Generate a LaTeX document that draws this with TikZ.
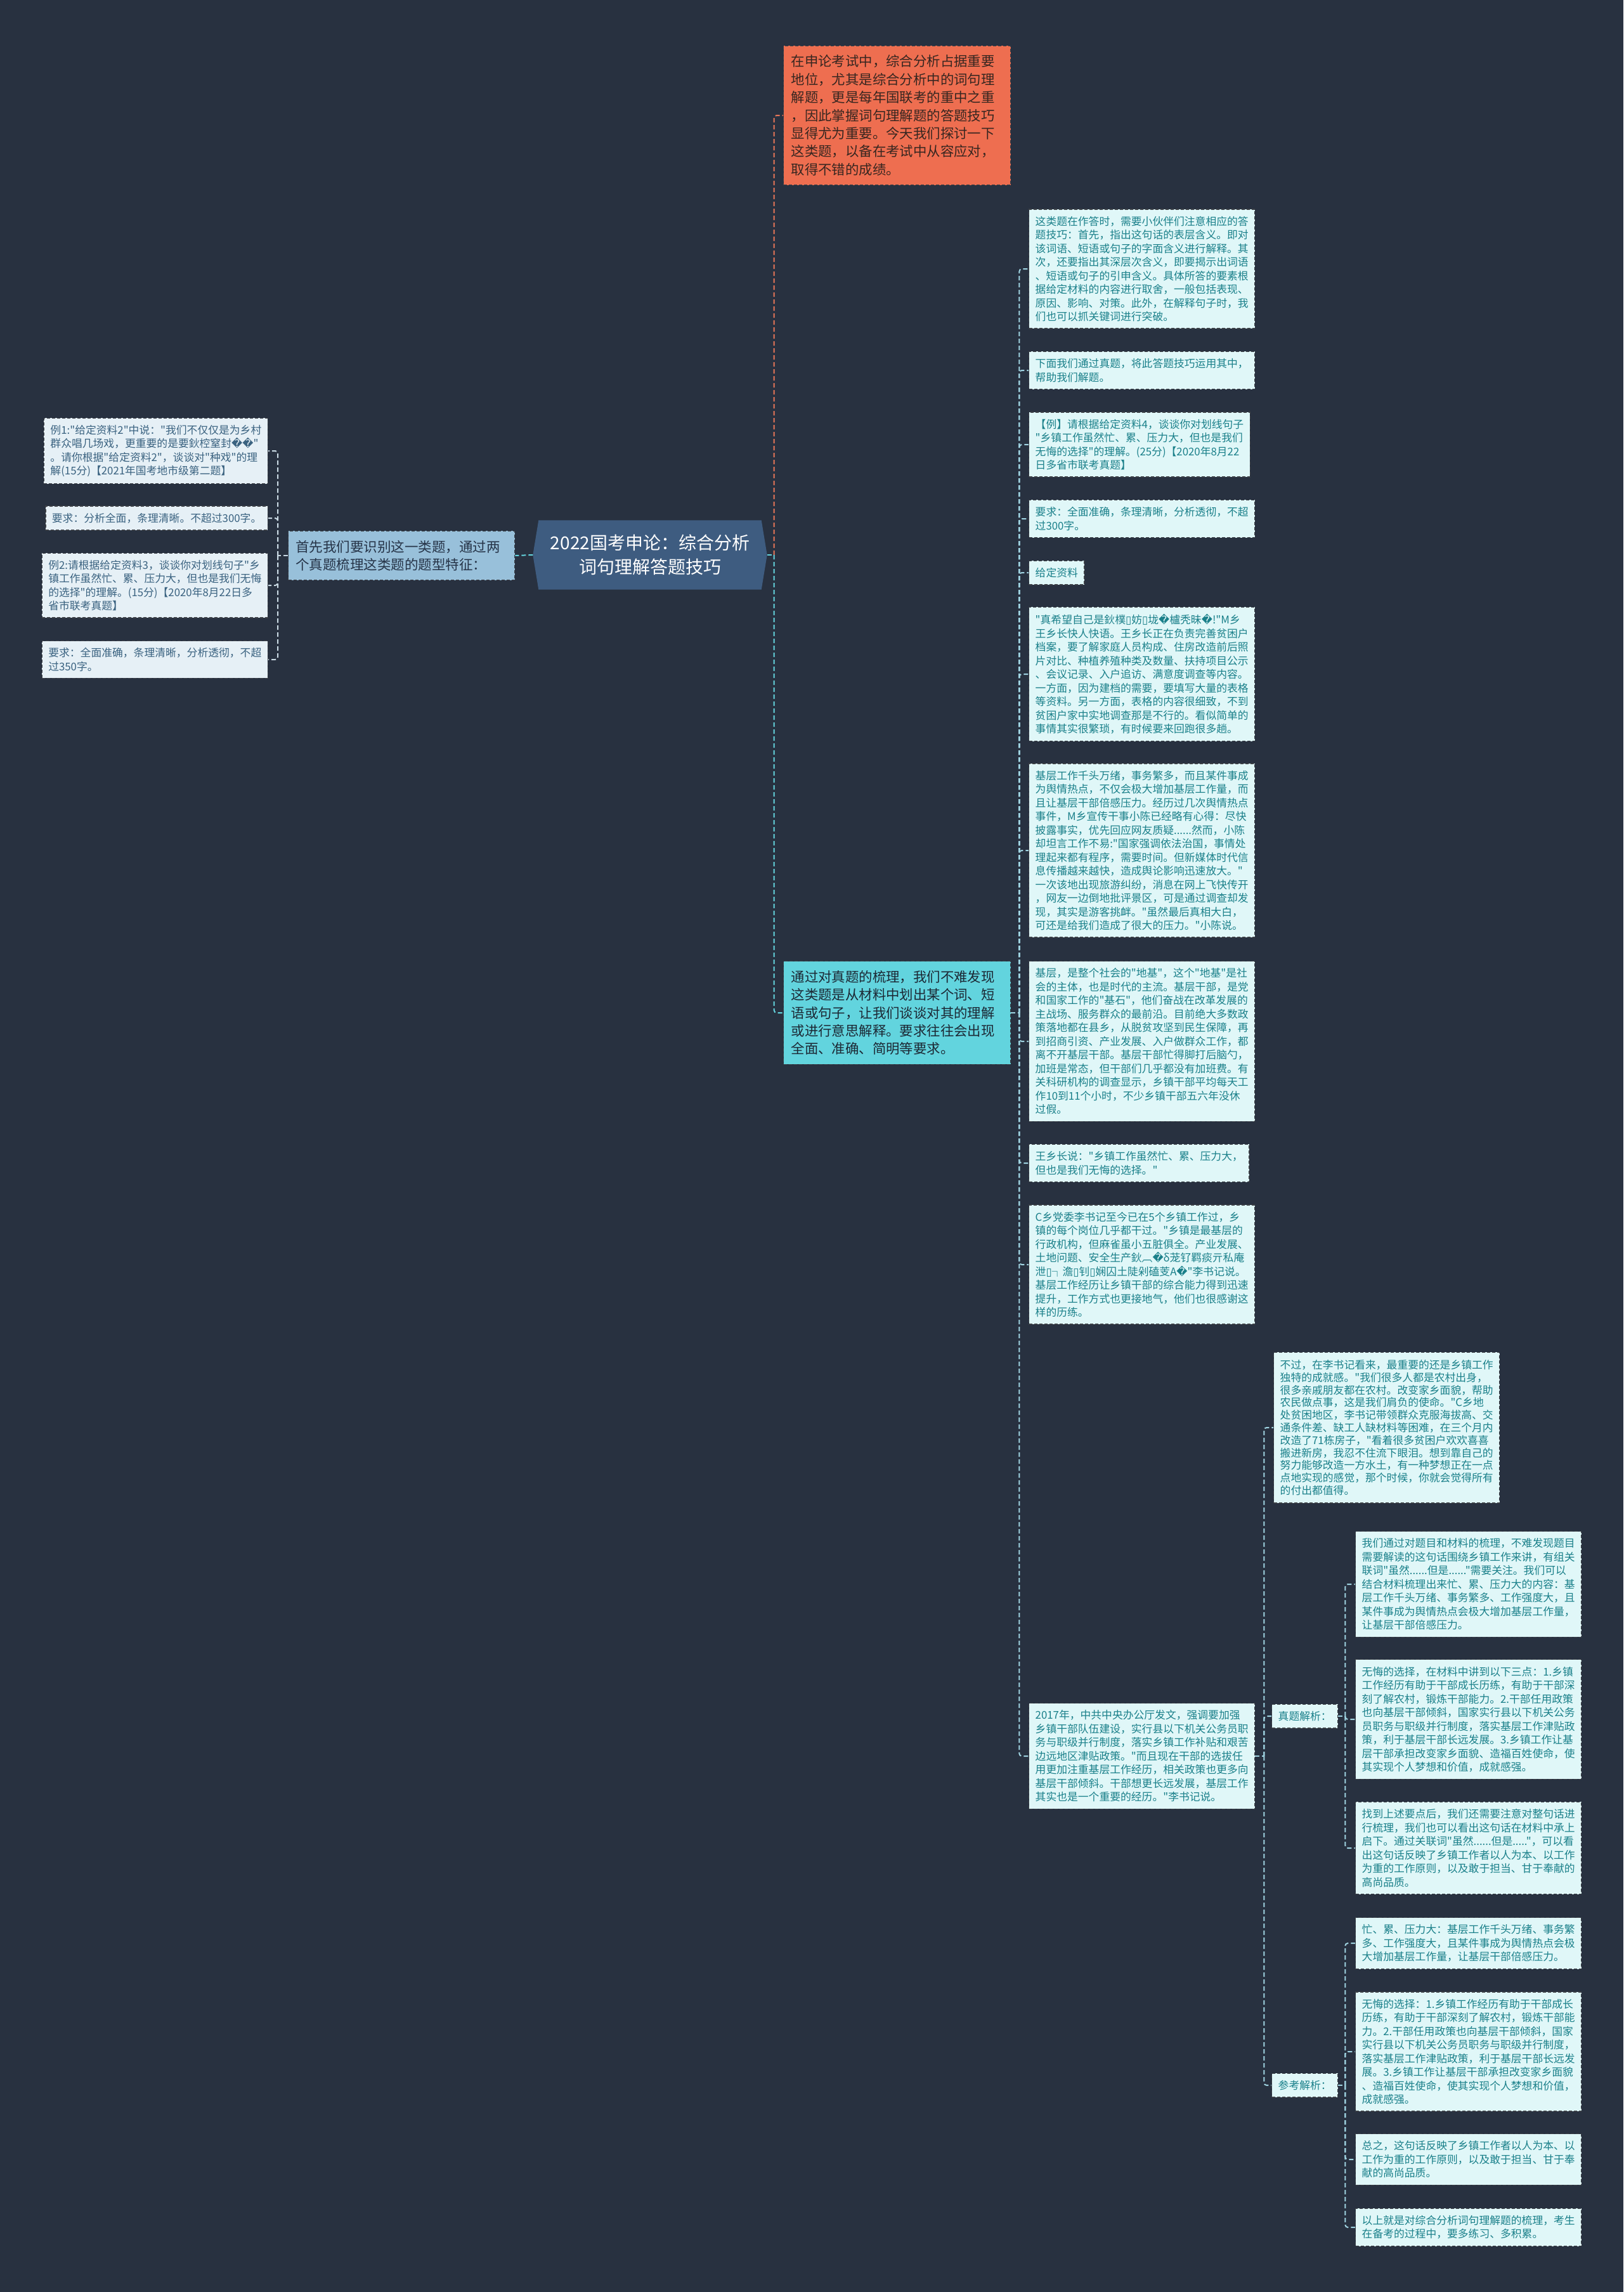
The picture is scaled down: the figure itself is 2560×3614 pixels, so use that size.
\documentclass[tikz,border=0pt]{standalone}
\usepackage{fontspec}
\setmainfont{Noto Sans CJK SC}[Ligatures=TeXOff]
\newfontfamily\dvs{DejaVu Sans}
\newcommand\rp{{\dvs\symbol{"FFFD}}}
\newcommand\tf{{\dvs\symbol{"25AF}}}
\usetikzlibrary{calc}
\pgfdeclarelayer{bg}
\pgfsetlayers{bg,main}
\definecolor{bgc}{RGB}{40,49,64}
\definecolor{rootc}{RGB}{62,92,128}
\definecolor{orfill}{RGB}{238,110,80}
\definecolor{ortext}{RGB}{55,38,32}
\definecolor{cyfill}{RGB}{98,212,222}
\definecolor{cytext}{RGB}{28,40,52}
\definecolor{midfill}{RGB}{152,192,218}
\definecolor{midtext}{RGB}{38,52,72}
\definecolor{lfill}{RGB}{230,240,246}
\definecolor{ltext}{RGB}{58,98,128}
\definecolor{rfill}{RGB}{224,247,248}
\definecolor{rtext}{RGB}{26,128,138}
\definecolor{bordc}{RGB}{60,64,70}
\definecolor{orline}{RGB}{232,118,88}
\definecolor{cyline}{RGB}{100,212,222}
\definecolor{rline}{RGB}{160,212,226}
\definecolor{lline}{RGB}{200,216,226}
\tikzset{
  boxbase/.style={draw=bordc, dash pattern=on 5pt off 3pt, line width=1.4pt, align=left},
  leafR/.style={boxbase, fill=rfill, text=rtext, font=\fontsize{16.8}{21.5}\selectfont, inner xsep=10pt, inner ysep=11pt, anchor=west},
  leafL/.style={boxbase, fill=lfill, text=ltext, font=\fontsize{16.8}{21.3}\selectfont, inner xsep=10pt, inner ysep=11pt, anchor=east},
  bigbox/.style={boxbase, font=\fontsize{21.4}{28.4}\selectfont, inner xsep=12pt, inner ysep=14.5pt, anchor=west, text width=334pt},
  conn/.style={line width=2pt, dash pattern=on 7pt off 4pt, rounded corners=4pt},
}
\begin{document}
\begin{tikzpicture}[x=1pt,y=-1pt]
\useasboundingbox (0,0) rectangle (2560,3614);

% root
\node[text=white, font=\fontsize{28}{38}\selectfont, align=center, minimum width=369pt, minimum height=109pt, inner sep=0pt] (root) at (1025,875) {2022国考申论：综合分析\\词句理解答题技巧};

% left branch
\node[boxbase, fill=midfill, text=midtext, font=\fontsize{21.5}{28.4}\selectfont, inner xsep=11.5pt, inner ysep=14.5pt, text width=334pt, anchor=west] (M) at (454,876) {首先我们要识别这一类题，通过两\\个真题梳理这类题的题型特征：};

\node[leafL] (L1) at (423,711) {例1:"给定资料2"中说："我们不仅仅是为乡村\\群众唱几场戏，更重要的是要鈥椌窒封\rp\rp"\\。请你根据"给定资料2"，谈谈对"种戏"的理\\解(15分)【2021年国考地市级第二题】};
\node[leafL] (L2) at (423,817) {要求：分析全面，条理清晰。不超过300字。};
\node[leafL] (L3) at (423,923) {例2:请根据给定资料3，谈谈你对划线句子"乡\\镇工作虽然忙、累、压力大，但也是我们无悔\\的选择"的理解。(15分)【2020年8月22日多\\省市联考真题】};
\node[leafL] (L4) at (423,1040) {要求：全面准确，条理清晰，分析透彻，不超\\过350字。};

% orange and cyan
\node[bigbox, fill=orfill, text=ortext] (O) at (1235,182) {在申论考试中，综合分析占据重要\\地位，尤其是综合分析中的词句理\\解题，更是每年国联考的重中之重\\，因此掌握词句理解题的答题技巧\\显得尤为重要。今天我们探讨一下\\这类题，以备在考试中从容应对，\\取得不错的成绩。};
\node[bigbox, fill=cyfill, text=cytext] (Cy) at (1235,1597) {通过对真题的梳理，我们不难发现\\这类题是从材料中划出某个词、短\\语或句子，让我们谈谈对其的理解\\或进行意思解释。要求往往会出现\\全面、准确、简明等要求。};

% right column
\node[leafR] (R1) at (1622,424) {这类题在作答时，需要小伙伴们注意相应的答\\题技巧：首先，指出这句话的表层含义。即对\\该词语、短语或句子的字面含义进行解释。其\\次，还要指出其深层次含义，即要揭示出词语\\、短语或句子的引申含义。具体所答的要素根\\据给定材料的内容进行取舍，一般包括表现、\\原因、影响、对策。此外，在解释句子时，我\\们也可以抓关键词进行突破。};
\node[leafR] (R2) at (1622,584) {下面我们通过真题，将此答题技巧运用其中，\\帮助我们解题。};
\node[leafR] (R3) at (1622,701) {【例】请根据给定资料4，谈谈你对划线句子\\"乡镇工作虽然忙、累、压力大，但也是我们\\无悔的选择"的理解。(25分)【2020年8月22\\日多省市联考真题】};
\node[leafR] (R4) at (1622,818) {要求：全面准确，条理清晰，分析透彻，不超\\过300字。};
\node[leafR] (R5) at (1622,903) {给定资料};
\node[leafR] (R6) at (1622,1063) {"真希望自己是鈥樸\tf{}妨\tf{}垅\rp{}櫨秃昧\rp{}!"M乡\\王乡长快人快语。王乡长正在负责完善贫困户\\档案，要了解家庭人员构成、住房改造前后照\\片对比、种植养殖种类及数量、扶持项目公示\\、会议记录、入户追访、满意度调查等内容。\\一方面，因为建档的需要，要填写大量的表格\\等资料。另一方面，表格的内容很细致，不到\\贫困户家中实地调查那是不行的。看似简单的\\事情其实很繁琐，有时候要来回跑很多趟。};
\node[leafR] (R7) at (1622,1341) {基层工作千头万绪，事务繁多，而且某件事成\\为舆情热点，不仅会极大增加基层工作量，而\\且让基层干部倍感压力。经历过几次舆情热点\\事件，M乡宣传干事小陈已经略有心得：尽快\\披露事实，优先回应网友质疑......然而，小陈\\却坦言工作不易:"国家强调依法治国，事情处\\理起来都有程序，需要时间。但新媒体时代信\\息传播越来越快，造成舆论影响迅速放大。"\\一次该地出现旅游纠纷，消息在网上飞快传开\\，网友一边倒地批评景区，可是通过调查却发\\现，其实是游客挑衅。"虽然最后真相大白，\\可还是给我们造成了很大的压力。"小陈说。};
\node[leafR] (R8) at (1622,1642) {基层，是整个社会的"地基"，这个"地基"是社\\会的主体，也是时代的主流。基层干部，是党\\和国家工作的"基石"，他们奋战在改革发展的\\主战场、服务群众的最前沿。目前绝大多数政\\策落地都在县乡，从脱贫攻坚到民生保障，再\\到招商引资、产业发展、入户做群众工作，都\\离不开基层干部。基层干部忙得脚打后脑勺，\\加班是常态，但干部们几乎都没有加班费。有\\关科研机构的调查显示，乡镇干部平均每天工\\作10到11个小时，不少乡镇干部五六年没休\\过假。};
\node[leafR] (R9) at (1622,1834) {王乡长说："乡镇工作虽然忙、累、压力大，\\但也是我们无悔的选择。"};
\node[leafR] (R10) at (1622,1994) {C乡党委李书记至今已在5个乡镇工作过，乡\\镇的每个岗位几乎都干过。"乡镇是最基层的\\行政机构，但麻雀虽小五脏俱全。产业发展、\\土地问题、安全生产鈥︹\rp{}δ茏钌羁痰亓私庵\\泄\tf{}┐澹\tf{}钊\tf{}娴囚土陡剁磕芰A\rp{}"李书记说。\\基层工作经历让乡镇干部的综合能力得到迅速\\提升，工作方式也更接地气，他们也很感谢这\\样的历练。};
\node[leafR] (R11) at (1622,2769) {2017年，中共中央办公厅发文，强调要加强\\乡镇干部队伍建设，实行县以下机关公务员职\\务与职级并行制度，落实乡镇工作补贴和艰苦\\边远地区津贴政策。"而且现在干部的选拔任\\用更加注重基层工作经历，相关政策也更多向\\基层干部倾斜。干部想更长远发展，基层工作\\其实也是一个重要的经历。"李书记说。};

% level under R11
\node[leafR, font=\fontsize{16.8}{19.8}\selectfont, inner ysep=12pt] (R12) at (2008,2251) {不过，在李书记看来，最重要的还是乡镇工作\\独特的成就感。"我们很多人都是农村出身，\\很多亲戚朋友都在农村。改变家乡面貌，帮助\\农民做点事，这是我们肩负的使命。"C乡地\\处贫困地区，李书记带领群众克服海拔高、交\\通条件差、缺工人缺材料等困难，在三个月内\\改造了71栋房子，"看着很多贫困户欢欢喜喜\\搬进新房，我忍不住流下眼泪。想到靠自己的\\努力能够改造一方水土，有一种梦想正在一点\\点地实现的感觉，那个时候，你就会觉得所有\\的付出都值得。};
\node[leafR] (ZT) at (2005,2706) {真题解析：};
\node[leafR] (CK) at (2005,3288) {参考解析：};

\node[leafR] (T1) at (2137,2498) {我们通过对题目和材料的梳理，不难发现题目\\需要解读的这句话围绕乡镇工作来讲，有组关\\联词"虽然......但是......"需要关注。我们可以\\结合材料梳理出来忙、累、压力大的内容：基\\层工作千头万绪、事务繁多、工作强度大，且\\某件事成为舆情热点会极大增加基层工作量，\\让基层干部倍感压力。};
\node[leafR] (T2) at (2137,2711) {无悔的选择，在材料中讲到以下三点：1.乡镇\\工作经历有助于干部成长历练，有助于干部深\\刻了解农村，锻炼干部能力。2.干部任用政策\\也向基层干部倾斜，国家实行县以下机关公务\\员职务与职级并行制度，落实基层工作津贴政\\策，利于基层干部长远发展。3.乡镇工作让基\\层干部承担改变家乡面貌、造福百姓使命，使\\其实现个人梦想和价值，成就感强。};
\node[leafR] (T3) at (2137,2914) {找到上述要点后，我们还需要注意对整句话进\\行梳理，我们也可以看出这句话在材料中承上\\启下。通过关联词"虽然......但是....."，可以看\\出这句话反映了乡镇工作者以人为本、以工作\\为重的工作原则，以及敢于担当、甘于奉献的\\高尚品质。};

\node[leafR] (C1) at (2137,3064) {忙、累、压力大：基层工作千头万绪、事务繁\\多、工作强度大，且某件事成为舆情热点会极\\大增加基层工作量，让基层干部倍感压力。};
\node[leafR] (C2) at (2137,3235) {无悔的选择：1.乡镇工作经历有助于干部成长\\历练，有助于干部深刻了解农村，锻炼干部能\\力。2.干部任用政策也向基层干部倾斜，国家\\实行县以下机关公务员职务与职级并行制度，\\落实基层工作津贴政策，利于基层干部长远发\\展。3.乡镇工作让基层干部承担改变家乡面貌\\、造福百姓使命，使其实现个人梦想和价值，\\成就感强。};
\node[leafR] (C3) at (2137,3405) {总之，这句话反映了乡镇工作者以人为本、以\\工作为重的工作原则，以及敢于担当、甘于奉\\献的高尚品质。};
\node[leafR] (C4) at (2137,3512) {以上就是对综合分析词句理解题的梳理，考生\\在备考的过程中，要多练习、多积累。};

% background and root shape
\begin{pgfonlayer}{bg}
\fill[bgc] (0,0) rectangle (2560,3614);
\fill[rootc] ([xshift=9pt]root.north west) -- ([xshift=-9pt]root.north east) -- (root.east) -- ([xshift=-9pt]root.south east) -- ([xshift=9pt]root.south west) -- (root.west) -- cycle;
% connectors
\draw[conn, cyline] (root.west) -- (M.east);
\draw[conn, lline] (M.west) -- ++(-16,0) coordinate (jL);
\foreach \n in {L1,L2,L3,L4} \draw[conn, lline] (jL) |- (\n.east);
\draw[conn, cyline] (root.east) -- ++(11,0) coordinate (jR);
\draw[conn, orline] (jR) |- (O.west);
\draw[conn, cyline] (jR) |- (Cy.west);
\draw[conn, rline] (Cy.east) -- ++(13,0) coordinate (jC);
\foreach \n in {R1,R2,R3,R4,R5,R6,R7,R8,R9,R10,R11} \draw[conn, rline] (jC) |- (\n.west);
\draw[conn, rline] (R11.east) -- ++(14,0) coordinate (j11);
\foreach \n in {R12,ZT,CK} \draw[conn, rline] (j11) |- (\n.west);
\draw[conn, rline] (ZT.east) -- ++(11,0) coordinate (jz);
\foreach \n in {T1,T2,T3} \draw[conn, rline] (jz) |- (\n.west);
\draw[conn, rline] (CK.east) -- ++(11,0) coordinate (jk);
\foreach \n in {C1,C2,C3,C4} \draw[conn, rline] (jk) |- (\n.west);
\end{pgfonlayer}
\end{tikzpicture}
\end{document}
